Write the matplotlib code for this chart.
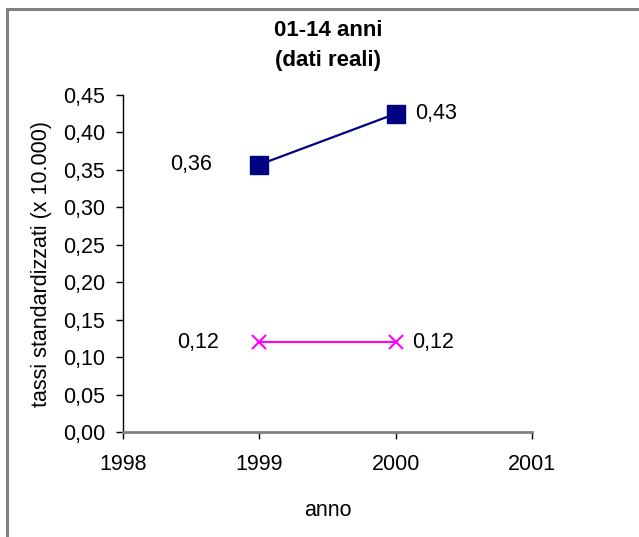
import matplotlib.pyplot as plt
import matplotlib.lines as mlines
from matplotlib.ticker import FuncFormatter

plt.rcParams['font.family'] = ['Liberation Sans', 'DejaVu Sans']

# tassi standardizzati, fascia 01-14 anni
anni = [1999, 2000]
serie_a = [0.357, 0.425]
serie_b = [0.12, 0.12]
etichette_a = ['0,36', '0,43']
etichette_b = ['0,12', '0,12']
yticks = [0.00, 0.05, 0.10, 0.15, 0.20, 0.25, 0.30, 0.35, 0.40, 0.45]
xticks = [1998, 1999, 2000, 2001]

fs = 15.5

fig = plt.figure(figsize=(6.39, 5.37), dpi=100)
ax = fig.add_axes([0.1925, 0.1955, 0.6401, 0.6276])

ax.plot(anni, serie_a, color='#000080', lw=1.6, marker='s', ms=12.5, clip_on=False)
ax.plot(anni, serie_b, color='#FF00FF', lw=1.5, marker='x', ms=9.5, mew=1.5, clip_on=False)

# etichette dei valori
ax.annotate(etichette_a[0], (anni[0], serie_a[0]), xytext=(-34, 0), textcoords='offset points',
            ha='right', va='center', fontsize=fs)
ax.annotate(etichette_a[1], (anni[1], serie_a[1]), xytext=(14, 0), textcoords='offset points',
            ha='left', va='center', fontsize=fs)
ax.annotate(etichette_b[0], (anni[0], serie_b[0]), xytext=(-29, 0), textcoords='offset points',
            ha='right', va='center', fontsize=fs)
ax.annotate(etichette_b[1], (anni[1], serie_b[1]), xytext=(12, 0), textcoords='offset points',
            ha='left', va='center', fontsize=fs)

ax.set_xlim(1998, 2001)
ax.set_ylim(0, 0.45)
ax.set_xticks(xticks)
ax.set_yticks(yticks)
ax.yaxis.set_major_formatter(FuncFormatter(lambda v, p: f'{v:.2f}'.replace('.', ',')))
ax.tick_params(axis='both', direction='out', length=5, width=1, labelsize=fs, colors='black')
ax.tick_params(axis='x', pad=11)
ax.tick_params(axis='y', pad=8)

for s in ['top', 'right']:
    ax.spines[s].set_visible(False)
ax.spines['left'].set_color('black')
ax.spines['left'].set_linewidth(1)
ax.spines['bottom'].set_color('#808080')
ax.spines['bottom'].set_linewidth(2)

ax.set_xlabel('anno', fontsize=fs, labelpad=18)
ax.set_ylabel('tassi standardizzati (x 10.000)', fontsize=fs, labelpad=8)

fig.text(0.513, 0.943, '01-14 anni', ha='center', va='center', fontsize=16, fontweight='bold')
fig.text(0.513, 0.887, '(dati reali)', ha='center', va='center', fontsize=16, fontweight='bold')

# cornice del grafico (solo bordo superiore e sinistro)
fig.add_artist(mlines.Line2D([0.0102, 0.9985], [0.9832, 0.9832], color='#808080', lw=2.2,
                             transform=fig.transFigure))
fig.add_artist(mlines.Line2D([0.0102, 0.0102], [0.0, 0.9832], color='#808080', lw=2.2,
                             transform=fig.transFigure))

fig.savefig('out.png', dpi=100)
